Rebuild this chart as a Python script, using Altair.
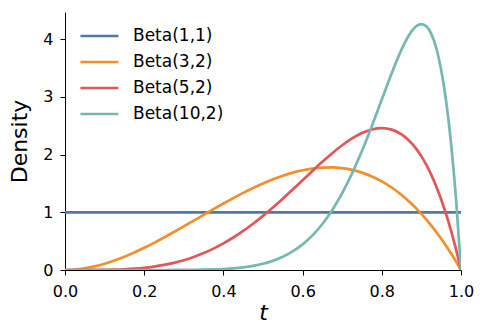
import altair as alt
import pandas as pd

t = [0.0, 0.025, 0.05, 0.075, 0.1, 0.125, 0.15, 0.175, 0.2, 0.225, 0.25, 0.275,
     0.3, 0.325, 0.35, 0.375, 0.4, 0.425, 0.45, 0.475, 0.5, 0.525, 0.55, 0.575,
     0.6, 0.625, 0.65, 0.675, 0.7, 0.725, 0.75, 0.775, 0.8, 0.825, 0.85, 0.875,
     0.8875, 0.9, 0.9125, 0.925, 0.9375, 0.95, 0.9625, 0.975, 0.9875, 1.0]

beta_1_1 = [1.0] * len(t)

beta_3_2 = [0.0, 0.0073, 0.0285, 0.0624, 0.108, 0.164, 0.2295, 0.3032, 0.384, 0.4708,
            0.5625, 0.6579, 0.756, 0.8556, 0.9555, 1.0547, 1.152, 1.2463, 1.3365, 1.4214,
            1.5, 1.5711, 1.6335, 1.6862, 1.728, 1.7578, 1.7745, 1.7769, 1.764, 1.7346,
            1.6875, 1.6217, 1.536, 1.4293, 1.3005, 1.1484, 1.0633, 0.972, 0.8743, 0.7701,
            0.6592, 0.5415, 0.4169, 0.2852, 0.1463, 0.0]

beta_5_2 = [0.0, 0.0, 0.0002, 0.0009, 0.0027, 0.0064, 0.0129, 0.0232, 0.0384, 0.0596,
            0.0879, 0.1244, 0.1701, 0.2259, 0.2926, 0.3708, 0.4608, 0.5628, 0.6766, 0.8018,
            0.9375, 1.0826, 1.2353, 1.3937, 1.5552, 1.7166, 1.8743, 2.024, 2.1609, 2.2793,
            2.373, 2.4351, 2.4576, 2.4321, 2.349, 2.1982, 2.0939, 1.9683, 1.82, 1.6472,
            1.4484, 1.2218, 0.9655, 0.6778, 0.3566, 0.0]

beta_10_2 = [0.0, 0.0, 0.0, 0.0, 0.0, 0.0, 0.0, 0.0, 0.0, 0.0001,
             0.0003, 0.0007, 0.0015, 0.003, 0.0056, 0.0101, 0.0173, 0.0286, 0.0458, 0.0711,
             0.1074, 0.1583, 0.228, 0.3212, 0.4434, 0.6003, 0.7974, 1.0399, 1.3317, 1.6741,
             2.0648, 2.4963, 2.9528, 3.4082, 3.8217, 4.134, 4.2275, 4.2616, 4.2218, 4.0901,
             3.846, 3.4664, 2.9244, 2.1896, 1.228, 0.0]

series_names = ["Beta(1,1)", "Beta(3,2)", "Beta(5,2)", "Beta(10,2)"]
series_values = [beta_1_1, beta_3_2, beta_5_2, beta_10_2]
colors = ["#4e79a7", "#f28e2b", "#e15759", "#76b7b2"]

rows = []
for name, vals in zip(series_names, series_values):
    for i, (ti, v) in enumerate(zip(t, vals)):
        rows.append({"t": ti, "density": v, "series": name, "order": i})
df = pd.DataFrame(rows)

chart = alt.Chart(df).mark_line(strokeWidth=2.7, interpolate="monotone", clip=True).encode(
    x=alt.X("t:Q", scale=alt.Scale(domain=[0, 1], nice=False, zero=False),
            axis=alt.Axis(title="t", values=[0, 0.2, 0.4, 0.6, 0.8, 1.0], format=".1f",
                          grid=False, domainColor="black", tickColor="black",
                          labelFont="DejaVu Sans", labelFontSize=16, labelColor="black",
                          labelPadding=8, tickSize=5,
                          titleFont="DejaVu Sans", titleFontSize=22, titleFontStyle="italic",
                          titleFontWeight="normal", titleColor="black", titlePadding=3,
                          labelFlush=False)),
    y=alt.Y("density:Q", scale=alt.Scale(domain=[0, 4.47], nice=False),
            axis=alt.Axis(title="Density", values=[0, 1, 2, 3, 4], format="d",
                          grid=False, domainColor="black", tickColor="black",
                          labelFont="DejaVu Sans", labelFontSize=16, labelColor="black",
                          labelPadding=7, tickSize=5,
                          titleFont="DejaVu Sans", titleFontSize=22,
                          titleFontWeight="normal", titleColor="black", titlePadding=11)),
    color=alt.Color("series:N", sort=series_names,
                    scale=alt.Scale(domain=series_names, range=colors),
                    legend=alt.Legend(title=None, orient="none", legendX=14, legendY=11,
                                      symbolType="M-1,0H4", symbolSize=231,
                                      symbolStrokeWidth=2.7, symbolFillColor="transparent",
                                      labelFont="DejaVu Sans", labelFontSize=17,
                                      labelColor="black", rowPadding=0, clipHeight=26,
                                      labelOffset=36)),
    order="order:Q",
).properties(
    width=396, height=258,
    autosize=alt.AutoSizeParams(type="none"),
    padding={"left": 57, "top": 4, "right": 13, "bottom": 54},
    background="white",
).configure_view(strokeWidth=0)

chart.save("out.html", embed_options={"renderer": "svg", "actions": False})
